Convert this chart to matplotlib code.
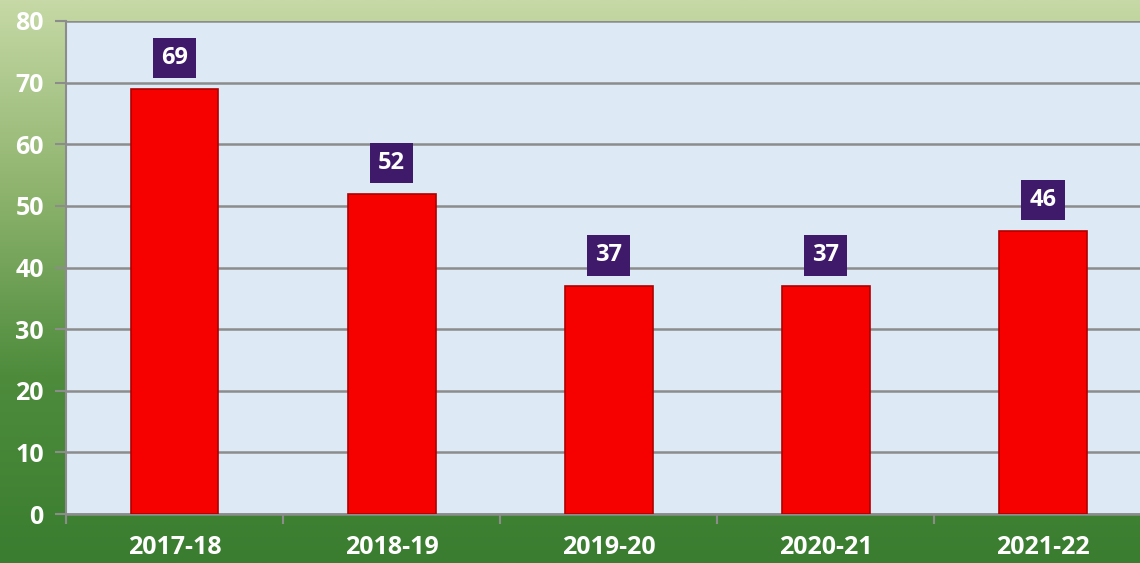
import numpy as np
import matplotlib
matplotlib.use('Agg')
import matplotlib.pyplot as plt
from matplotlib.colors import LinearSegmentedColormap

# Data
years = ['2017-18', '2018-19', '2019-20', '2020-21', '2021-22']
counts = [69, 52, 37, 37, 46]
y_ticks = [0, 10, 20, 30, 40, 50, 60, 70, 80]

plt.rcParams['font.family'] = ['Open Sans', 'DejaVu Sans']

fig = plt.figure(figsize=(11.4, 5.63), dpi=100)

# green gradient background for the whole figure
bg = fig.add_axes([0, 0, 1, 1], zorder=-10)
green = LinearSegmentedColormap.from_list('g', ['#c6d9a6', '#8fb46e', '#4e8c3c', '#3a7d30'])
grad = np.linspace(0, 1, 256).reshape(-1, 1)
bg.imshow(grad, aspect='auto', cmap=green, extent=(0, 1, 0, 1), origin='upper')
bg.axis('off')

ax = fig.add_axes([0.0579, 0.087, 0.952, 0.8757])
ax.set_facecolor('#dde9f5')

x = np.arange(len(years))
bars = ax.bar(x, counts, width=0.405, color='#f70000', edgecolor='#b00000',
              linewidth=1.2, zorder=3)

for xi, v in zip(x, counts):
    ax.annotate(str(v), (xi, v), xytext=(0, 22), textcoords='offset points',
                ha='center', va='center', color='white', fontsize=17,
                fontweight='bold', zorder=5,
                bbox=dict(boxstyle='square,pad=0.35', fc='#3f1a6b', ec='none'))

ax.set_xlim(-0.5, 4.5)
ax.set_ylim(0, 80)
ax.set_yticks(y_ticks)
ax.set_yticklabels([str(t) for t in y_ticks], color='white', fontsize=18,
                   fontweight='bold')
ax.yaxis.grid(True, color='#8c8c8c', linewidth=1.8, zorder=1)
ax.set_axisbelow(True)

# category labels centred, ticks at category boundaries
ax.set_xticks(x)
ax.set_xticklabels(years, color='white', fontsize=18, fontweight='bold')
ax.tick_params(axis='x', length=0, pad=15)
ax.set_xticks(np.arange(-0.5, 5, 1), minor=True)
ax.tick_params(axis='x', which='minor', length=7, color='#8c8c8c', width=1.5)
ax.tick_params(axis='y', length=8, color='#8c8c8c', width=1.5, pad=8)

for s in ['top', 'right']:
    ax.spines[s].set_visible(False)
ax.spines['left'].set_color('#8c8c8c')
ax.spines['left'].set_linewidth(1.5)
ax.spines['bottom'].set_color('#8c8c8c')
ax.spines['bottom'].set_linewidth(1.8)

fig.savefig('out.png', dpi=100)
